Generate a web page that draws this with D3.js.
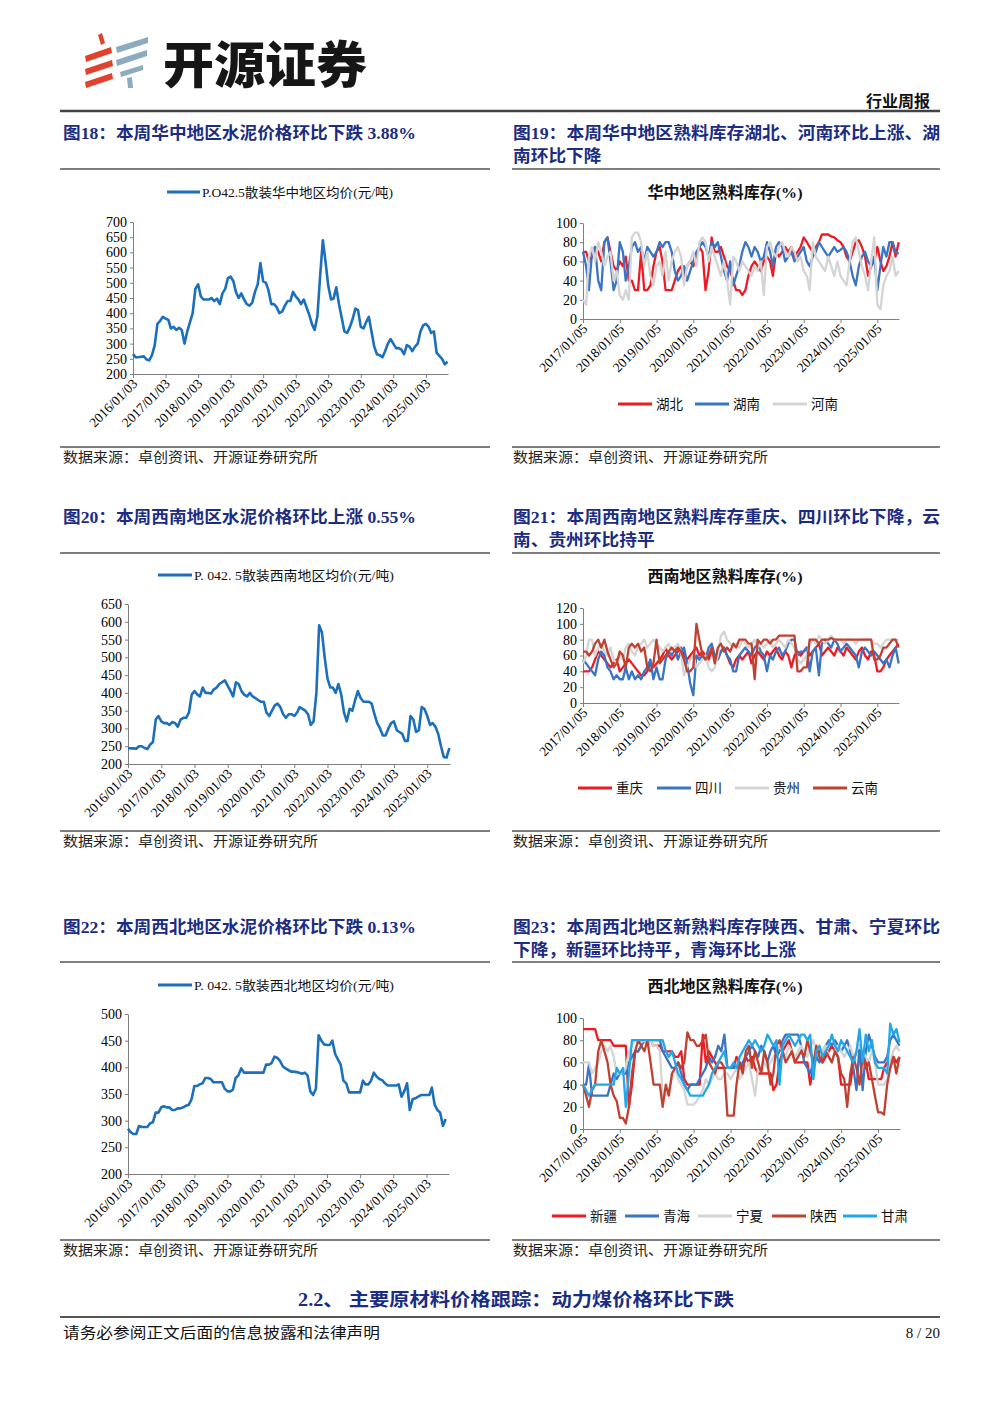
<!DOCTYPE html>
<html><head><meta charset="utf-8">
<script src="https://cdn.jsdelivr.net/npm/d3@7"></script>
<style>
body{margin:0;background:#fff;}
svg{display:block;}
</style></head><body>
<svg id="page" width="1000" height="1414"></svg>
<script>
// ---------- DATA ----------
// monthly categories (price charts: 2016/01 – 2025/09; inventory charts: 2017/01 – 2025/08)
const priceMonths = d3.timeMonth.range(new Date(2016,0,1), new Date(2025,9,1)).map(d => d3.timeDay.offset(d, 2));
const invMonths = d3.timeMonth.range(new Date(2017,0,1), new Date(2025,8,1)).map(d => d3.timeDay.offset(d, 4));
const priceTickLabels = ["2016/01/03","2017/01/03","2018/01/03","2019/01/03","2020/01/03","2021/01/03","2022/01/03","2023/01/03","2024/01/03","2025/01/03"];
const invTickLabels = ["2017/01/05","2018/01/05","2019/01/05","2020/01/05","2021/01/05","2022/01/05","2023/01/05","2024/01/05","2025/01/05"];

const huazhongPrice = [
 265,255,255,257,258,248,245,262,295,365,375,388,
 382,378,350,355,345,352,345,300,340,370,400,480,
 495,455,445,445,445,450,440,448,430,465,480,515,
 520,505,470,450,465,445,430,425,435,470,495,565,
 505,500,475,430,430,420,400,405,425,440,440,470,
 455,445,430,445,420,395,365,345,390,520,640,570,
 490,445,448,485,430,385,340,335,355,380,415,410,
 355,350,370,388,340,290,265,262,255,275,300,315,
 300,285,285,280,265,295,290,275,290,300,340,360,
 365,355,335,340,270,260,250,232,240];
const xinanPrice = [
 245,244,244,243,250,250,245,242,255,262,325,335,
 320,315,315,310,318,315,305,325,330,330,345,395,
 405,395,390,415,400,400,398,410,415,425,430,435,
 420,405,390,430,425,405,395,390,400,390,385,380,
 375,375,345,335,350,365,370,360,340,330,340,340,
 335,345,360,355,350,340,310,320,400,590,570,500,
 440,415,415,400,425,395,345,320,355,350,380,405,
 385,375,375,375,370,340,315,300,280,280,300,315,
 320,295,290,285,265,265,335,325,290,295,360,355,
 335,310,315,305,285,250,220,218,245];
const xibeiPrice = [
 285,278,275,275,290,288,288,288,295,297,315,315,
 325,327,325,325,320,320,323,323,325,328,330,340,
 365,365,368,370,380,380,378,372,372,372,372,360,
 355,355,358,380,385,398,390,390,390,390,390,390,
 390,390,405,405,408,420,418,412,402,398,395,392,
 392,391,390,388,390,385,355,348,360,460,450,443,
 442,442,450,425,415,405,375,370,353,353,353,353,
 353,375,368,368,375,390,383,378,376,370,366,366,
 366,366,368,345,355,370,320,340,342,345,348,348,
 348,348,362,330,320,315,290,303];

// 华中熟料库存
const hubei = [
 70,70,60,65,75,70,60,80,85,70,55,50,
 60,55,65,40,40,30,30,70,30,30,35,55,
 70,75,60,30,30,30,40,50,55,45,55,60,
 55,65,75,70,30,50,85,70,70,75,65,55,
 50,40,30,30,25,30,45,55,60,55,50,60,
 65,60,45,70,65,70,75,70,75,65,70,75,
 85,80,75,70,75,80,88,88,88,86,85,82,
 80,75,65,60,70,80,82,75,65,45,55,60,
 75,60,50,55,65,80,65,80];
const hunan = [
 70,55,30,70,75,40,30,80,85,60,30,40,
 80,70,40,55,75,80,70,75,60,75,70,65,
 70,80,75,80,80,70,50,40,45,55,40,50,
 60,70,75,80,75,65,80,75,80,65,50,40,
 60,35,45,55,70,80,75,65,75,70,60,65,
 80,70,55,75,80,75,60,65,70,60,65,70,
 75,60,55,65,70,80,75,70,65,70,75,70,
 72,75,70,60,45,35,55,65,70,60,55,65,
 30,55,75,65,80,80,70,68];
const henan = [
 20,15,65,75,60,80,70,55,65,70,40,50,
 25,20,30,20,85,90,90,80,55,70,45,35,
 55,60,45,70,40,60,70,75,65,35,55,60,
 70,55,80,85,80,60,75,65,55,45,60,40,
 15,65,60,50,60,55,50,45,55,50,60,25,
 75,80,70,65,75,80,70,65,75,70,60,65,
 50,45,30,80,65,60,55,50,65,55,45,60,
 45,40,35,60,80,85,70,55,45,30,60,85,
 15,10,35,45,50,65,45,50];

// 西南熟料库存
const chongqing = [
 40,40,40,45,55,65,60,55,50,45,50,55,
 40,45,50,55,50,45,40,35,35,40,50,45,
 50,55,60,70,60,55,60,65,70,60,55,60,
 65,70,60,65,60,55,65,60,55,65,70,60,
 50,45,55,60,55,60,65,50,60,65,60,55,
 65,60,65,70,60,55,65,60,45,60,65,60,
 65,70,60,65,70,75,60,65,70,65,60,70,
 65,60,70,65,60,55,65,70,60,55,65,60,
 40,40,45,55,60,65,70,75];
const sichuan = [
 55,50,45,40,35,55,65,60,45,40,30,35,
 30,30,45,30,40,30,35,30,40,45,55,30,
 45,30,30,55,65,60,70,55,65,70,50,25,
 10,60,55,60,55,70,75,60,55,65,70,60,
 55,40,40,60,65,70,65,60,70,75,65,60,
 40,60,55,65,70,60,65,75,80,80,60,65,
 65,70,40,65,70,35,75,80,75,70,80,75,
 65,70,75,70,65,60,45,65,70,65,60,65,
 60,55,50,55,45,60,70,50];
const guizhou = [
 50,60,80,80,60,70,75,65,60,70,55,50,
 60,55,70,75,65,60,70,75,80,70,75,80,
 75,70,65,70,75,65,70,75,65,35,45,55,
 60,45,50,55,60,45,40,45,60,85,90,80,
 75,70,75,70,80,75,70,75,80,70,75,70,
 75,80,70,75,80,75,70,80,75,70,55,50,
 55,60,75,80,75,85,80,75,80,85,80,80,
 80,75,80,80,80,75,80,80,80,80,80,75,
 75,70,75,80,80,80,80,80];
const yunnan = [
 65,65,60,65,75,80,70,80,65,55,45,50,
 65,60,45,70,75,70,75,65,70,45,40,50,
 80,50,55,60,65,70,65,70,65,55,40,40,
 45,100,80,60,55,60,70,50,70,75,65,70,
 65,75,70,80,80,80,75,75,30,80,75,80,
 80,75,80,80,85,85,85,85,85,85,40,40,
 45,45,80,80,80,75,80,80,80,82,80,80,
 80,80,80,80,80,80,80,80,80,80,80,55,
 55,60,70,70,75,80,80,70];

// 西北熟料库存
const xinjiang = [
 90,90,90,90,90,80,80,80,80,80,75,75,
 75,75,75,20,40,70,70,75,80,75,80,75,
 75,75,70,70,70,70,65,65,70,45,40,40,
 40,40,40,85,60,70,65,60,55,55,55,55,
 55,55,65,60,55,65,60,65,55,50,50,50,
 50,50,35,40,60,70,75,80,70,60,60,60,
 60,60,40,55,65,70,60,65,70,75,70,65,
 40,40,40,40,60,70,75,65,60,45,45,45,
 45,45,55,60,55,65,60,65];
const qinghai = [
 40,40,58,30,30,30,30,30,30,40,50,45,
 50,50,50,60,65,70,70,75,80,80,80,80,
 80,80,70,65,60,55,55,60,50,40,35,40,
 40,40,45,50,55,65,60,65,75,70,85,55,
 55,55,55,55,60,65,70,75,70,65,75,70,
 60,70,75,65,70,80,85,85,85,85,85,75,
 60,55,50,60,65,60,70,75,80,75,80,75,
 70,75,80,70,55,35,75,35,70,85,75,65,
 60,60,60,65,80,85,80,75];
const ningxia = [
 60,60,60,50,55,60,70,75,70,75,65,50,
 50,50,55,70,75,80,80,78,80,75,80,75,
 75,70,30,30,35,45,55,45,40,35,22,22,
 22,25,30,35,45,40,45,50,45,45,50,50,
 45,50,55,45,50,55,60,45,30,55,55,60,
 55,60,65,70,75,70,65,75,70,65,70,75,
 70,65,75,80,70,65,70,75,65,60,70,75,
 70,65,70,75,65,70,75,70,65,60,70,60,
 40,40,40,45,60,70,75,70];
const shaanxi = [
 40,30,20,35,40,70,80,70,60,40,30,25,
 10,10,5,20,50,70,80,75,70,80,60,40,
 40,40,20,40,30,50,55,60,55,60,87,80,
 80,75,75,80,85,60,55,50,60,60,55,12,
 12,12,40,60,50,70,75,55,70,60,50,70,
 60,40,50,75,80,70,60,65,70,60,65,70,
 65,80,70,60,75,65,60,70,65,60,70,65,
 50,45,20,50,65,55,40,65,55,60,45,30,
 15,15,13,40,55,65,50,65];
const gansu = [
 40,35,30,35,40,40,40,40,40,40,40,55,
 50,55,20,50,80,80,80,80,80,80,80,80,
 80,80,80,70,65,70,60,50,45,40,35,30,
 30,30,30,30,35,40,50,55,60,65,70,55,
 55,60,55,65,70,75,80,75,80,75,70,75,
 85,80,75,80,40,75,80,85,80,75,80,85,
 85,80,85,45,70,75,65,70,75,85,75,70,
 80,75,70,65,60,70,90,60,85,70,80,60,
 55,55,55,50,95,85,90,78];

const priceYTicks1 = [200,250,300,350,400,450,500,550,600,650,700];
const priceYTicks2 = [200,250,300,350,400,450,500,550,600,650];
const priceYTicks3 = [200,250,300,350,400,450,500];
const invYTicks1 = [0,20,40,60,80,100];
const invYTicks2 = [0,20,40,60,80,100,120];

// ---------- DRAW ----------
const svg = d3.select('#page');
svg.append('rect').attr('width',1000).attr('height',1414).attr('fill','#fff');
const NAVY = '#1b2c82';
const SERIF = "'Liberation Serif','Noto Sans CJK SC',serif";
const CJK = "'Noto Sans CJK SC','Liberation Serif',sans-serif";
const PRICE_BLUE = '#1c6fba';
const RED = '#ec1c24', BLUE = '#3a74c4', GRAY = '#d4d4d4', BROWN = '#c0412f', CYAN = '#22a8ea';
const parseT = d3.timeParse('%Y/%m/%d');
const fmtT = d3.timeFormat('%Y/%m/%d');

function line(x1,x2,y,w,c){
  svg.append('line').attr('x1',x1).attr('x2',x2).attr('y1',y).attr('y2',y).attr('stroke',c).attr('stroke-width',w);
}
function text(s,x,y,o){
  const t = svg.append('text').attr('x',x).attr('y',y).text(s)
    .attr('font-family',o.family||CJK).attr('font-size',o.size||14)
    .attr('fill',o.fill||'#000').attr('font-weight',o.weight||'normal')
    .attr('text-anchor',o.anchor||'start');
  if(o.len) t.attr('textLength',o.len).attr('lengthAdjust','spacingAndGlyphs');
  return t;
}

// ---- header / logo ----
const logo = svg.append('g');
const redShapes = [
  [[98,35],[102,33],[105,43],[101,45]],
  [[85,56],[111,47],[112,53],[86,62]],
  [[85,69],[112,60],[113,66],[86,75]],
  [[85,82],[112,73],[113,79],[86,88]]
];
const blueShapes = [
  [[116,47],[148,37],[148,43],[117,53]],
  [[116,60],[147,50],[147,56],[117,66]],
  [[120,72],[143,65],[143,70],[121,77]],
  [[127,78],[132,77],[133,88],[128,88]]
];
redShapes.forEach(p=>logo.append('polygon').attr('points',p.join(' ')).attr('fill','#e2412e'));
blueShapes.forEach(p=>logo.append('polygon').attr('points',p.join(' ')).attr('fill','#8eaabf'));
text('开源证券',163,83,{size:50,weight:900,len:204,fill:'#161616'});
text('行业周报',930,107,{size:16,weight:700,anchor:'end',fill:'#111'});
line(60,940,111,2.5,'#444');

// ---- figure titles and source lines ----
const titleOpts = {size:16.5,weight:700,fill:NAVY,family:SERIF};
function titleBlock(rowY, leftT, rightT1, rightT2, lineY, srcY){
  text(leftT,63,rowY+6,Object.assign({len:353},titleOpts));
  text(rightT1,513,rowY+6,Object.assign({len:427},titleOpts));
  text(rightT2,513,rowY+29,Object.assign({len:rightT2.length*17.7},titleOpts));
  line(60,490,lineY,1.5,'#555');
  line(512,940,lineY,1.5,'#555');
  line(60,490,srcY,1.5,'#555');
  line(512,940,srcY,1.5,'#555');
  text('数据来源：卓创资讯、开源证券研究所',63,srcY+15,{size:14,len:255,fill:'#222'});
  text('数据来源：卓创资讯、开源证券研究所',513,srcY+15,{size:14,len:255,fill:'#222'});
}
titleBlock(133,'图18：本周华中地区水泥价格环比下跌 3.88%','图19：本周华中地区熟料库存湖北、河南环比上涨、湖','南环比下降',169,447);
titleBlock(517,'图20：本周西南地区水泥价格环比上涨 0.55%','图21：本周西南地区熟料库存重庆、四川环比下降，云','南、贵州环比持平',553,831);
titleBlock(927,'图22：本周西北地区水泥价格环比下跌 0.13%','图23：本周西北地区新熟料库存陕西、甘肃、宁夏环比','下降，新疆环比持平，青海环比上涨',962,1240);

// section heading + footer
text('2.2、 主要原材料价格跟踪：动力煤价格环比下跌',298,1306,{size:18,weight:700,fill:NAVY,family:SERIF,len:436});
line(60,940,1317,2,'#555');
text('请务必参阅正文后面的信息披露和法律声明',63,1338,{size:15,len:317,fill:'#111'});
text('8 / 20',940,1338,{size:15,anchor:'end',family:SERIF,fill:'#111'});

function styleAxis(g, size){
  g.attr('font-family',SERIF).attr('font-size',size);
  g.selectAll('path,line').attr('stroke','#7f7f7f').attr('stroke-width',1);
  g.selectAll('text').attr('fill','#000');
}

// ---- price charts ----
function drawPrice(o){
  const g = svg.append('g');
  const x = d3.scaleTime().domain([parseT('2016/01/03'), o.xEnd]).range([o.left,o.right]);
  const y = d3.scaleLinear().domain(o.yDomain).range([o.bottom,o.top]);
  g.append('line').attr('x1',o.legX1).attr('x2',o.legX2).attr('y1',o.legY).attr('y2',o.legY)
    .attr('stroke',PRICE_BLUE).attr('stroke-width',3);
  g.append('text').attr('x',o.legX2+2).attr('y',o.legY+4.5).attr('font-family',SERIF).attr('font-size',13)
    .attr('textLength',o.legW).attr('lengthAdjust','spacingAndGlyphs').attr('fill','#111').text(o.legText);
  const ya = g.append('g').attr('transform',`translate(${o.left},0)`)
    .call(d3.axisLeft(y).tickValues(o.yTicks).tickSize(3).tickSizeOuter(0).tickPadding(3).tickFormat(d3.format('d')));
  styleAxis(ya,14);
  const xa = g.append('g').attr('transform',`translate(0,${o.bottom})`)
    .call(d3.axisBottom(x).tickValues(priceTickLabels.map(parseT)).tickSize(4).tickSizeOuter(0).tickFormat(fmtT));
  styleAxis(xa,13.5);
  xa.selectAll('text').attr('x',-4).attr('y',6).attr('dy','0.35em').attr('transform','rotate(-45)').attr('text-anchor','end');
  const pts = o.values.map((v,i)=>[priceMonths[i],v]);
  g.append('path').datum(pts).attr('fill','none').attr('stroke',PRICE_BLUE).attr('stroke-width',2.6)
    .attr('stroke-linejoin','round')
    .attr('d',d3.line().x(d=>x(d[0])).y(d=>y(d[1])));
}
drawPrice({left:133,right:448,top:222,bottom:374,yDomain:[200,700],yTicks:priceYTicks1,xEnd:parseT('2025/09/08'),
  legX1:167,legX2:200,legY:192,legW:191,legText:'P.O42.5散装华中地区均价(元/吨)',values:huazhongPrice});
drawPrice({left:128,right:450,top:604,bottom:764,yDomain:[200,650],yTicks:priceYTicks2,xEnd:parseT('2025/09/10'),
  legX1:158,legX2:192,legY:575,legW:200,legText:'P. 042. 5散装西南地区均价(元/吨)',values:xinanPrice});
drawPrice({left:128,right:449,top:1014,bottom:1174,yDomain:[200,500],yTicks:priceYTicks3,xEnd:parseT('2025/09/08'),
  legX1:158,legX2:192,legY:985,legW:200,legText:'P. 042. 5散装西北地区均价(元/吨)',values:xibeiPrice});

// ---- inventory charts ----
function drawInv(o){
  const g = svg.append('g');
  const x = d3.scaleTime().domain([parseT('2017/01/05'), o.xEnd]).range([o.left,o.right]);
  const y = d3.scaleLinear().domain(o.yDomain).range([o.bottom,o.top]);
  g.append('text').attr('x',725).attr('y',o.titleY+5).attr('text-anchor','middle').attr('font-family',SERIF)
    .attr('font-weight',700).attr('font-size',15.5).attr('textLength',155).attr('lengthAdjust','spacingAndGlyphs')
    .attr('fill','#111').text(o.title);
  const ya = g.append('g').attr('transform',`translate(${o.left},0)`)
    .call(d3.axisLeft(y).tickValues(o.yTicks).tickSize(3).tickSizeOuter(0).tickPadding(3).tickFormat(d3.format('d')));
  styleAxis(ya,14);
  const xa = g.append('g').attr('transform',`translate(0,${o.bottom})`)
    .call(d3.axisBottom(x).tickValues(invTickLabels.map(parseT)).tickSize(4).tickSizeOuter(0).tickFormat(fmtT));
  styleAxis(xa,13.5);
  xa.selectAll('text').attr('x',-4).attr('y',6).attr('dy','0.35em').attr('transform','rotate(-45)').attr('text-anchor','end');
  const ln = d3.line().x(d=>x(d[0])).y(d=>y(d[1]));
  o.series.forEach((s,k)=>{
    g.append('path').datum(s.values.map((v,i)=>[invMonths[i],v])).attr('fill','none').attr('stroke',s.color)
      .attr('stroke-width',2.3).attr('stroke-linejoin','round').attr('d',ln);
    const lx = o.legX[k];
    g.append('line').attr('x1',lx).attr('x2',lx+34).attr('y1',o.legY).attr('y2',o.legY).attr('stroke',s.color).attr('stroke-width',3);
    g.append('text').attr('x',lx+38).attr('y',o.legY+5).attr('font-family',CJK).attr('font-size',13.5).attr('fill','#111').text(s.name);
  });
}
drawInv({left:583,right:899,top:223,bottom:319,yDomain:[0,100],yTicks:invYTicks1,xEnd:parseT('2025/08/08'),
  title:'华中地区熟料库存(%)',titleY:193,legY:404,legX:[618,695,773],
  series:[{name:'湖北',values:hubei,color:RED},{name:'湖南',values:hunan,color:BLUE},{name:'河南',values:henan,color:GRAY}]});
drawInv({left:583,right:899,top:608,bottom:703,yDomain:[0,120],yTicks:invYTicks2,xEnd:parseT('2025/08/08'),
  title:'西南地区熟料库存(%)',titleY:577,legY:788,legX:[578,657,735,813],
  series:[{name:'重庆',values:chongqing,color:RED},{name:'四川',values:sichuan,color:BLUE},
          {name:'贵州',values:guizhou,color:GRAY},{name:'云南',values:yunnan,color:BROWN}]});
drawInv({left:583,right:900,top:1018,bottom:1129,yDomain:[0,100],yTicks:invYTicks1,xEnd:parseT('2025/08/10'),
  title:'西北地区熟料库存(%)',titleY:987,legY:1216,legX:[552,625,698,772,843],
  series:[{name:'新疆',values:xinjiang,color:RED},{name:'青海',values:qinghai,color:BLUE},
          {name:'宁夏',values:ningxia,color:GRAY},{name:'陕西',values:shaanxi,color:BROWN},{name:'甘肃',values:gansu,color:CYAN}]});
</script>
</body></html>
